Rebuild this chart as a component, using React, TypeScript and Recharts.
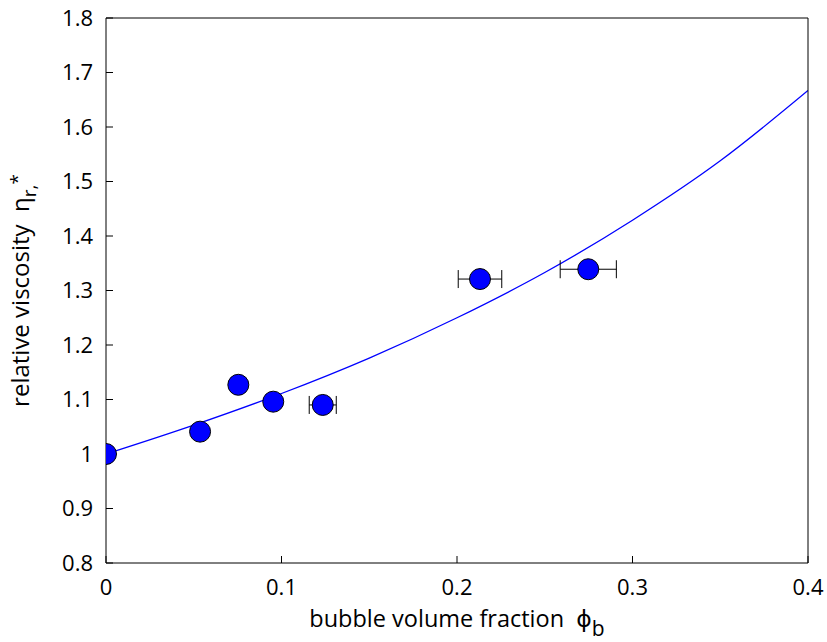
import { ComposedChart, Line, Scatter, XAxis, YAxis, ErrorBar, Label } from "recharts";

// measured points
const PHI = [0, 0.0536, 0.0754, 0.0953, 0.1235, 0.2131, 0.2748];
const ETA = [1.0, 1.041, 1.127, 1.096, 1.09, 1.321, 1.339];
const PHI_ERR = [0, 0, 0, 0, 0.0077, 0.0124, 0.016];

// fitted curve
const FIT_PHI = [0, 0.05, 0.1, 0.15, 0.2, 0.25, 0.3, 0.35, 0.4];
const FIT_ETA = [1.0, 1.053, 1.111, 1.176, 1.25, 1.333, 1.429, 1.538, 1.667];

const X_TICKS = [0, 0.1, 0.2, 0.3, 0.4];
const Y_TICKS = [0.8, 0.9, 1.0, 1.1, 1.2, 1.3, 1.4, 1.5, 1.6, 1.7, 1.8];

const FONT = "'Open Sans', 'DejaVu Sans', sans-serif";
const BLUE = "#0000ff";

const points = PHI.map((x, i) => ({ x, y: ETA[i], ex: PHI_ERR[i] }));
const plain = points.filter((p) => !p.ex);
const withErr = points.filter((p) => p.ex > 0);
const fit = FIT_PHI.map((x, i) => ({ x, y: FIT_ETA[i] }));

const fmt = (v: number) => String(Number(v.toFixed(1)));

const Dot = (props: any) => (
  <circle cx={props.cx} cy={props.cy} r={10.5} fill={BLUE} stroke="#000" strokeWidth={1} />
);

const XTitle = ({ viewBox }: any) => {
  const cx = viewBox.x + viewBox.width / 2;
  const y = viewBox.y + 64;
  return (
    <text x={cx} y={y} textAnchor="middle" fontSize={23.5} fill="#000" fontFamily={FONT}>
      bubble volume fraction{"\u00a0\u00a0"}ϕ
      <tspan dy={9} fontSize={21}>b</tspan>
    </text>
  );
};

const YTitle = ({ viewBox }: any) => {
  const x = 29;
  const cy = viewBox.y + viewBox.height / 2;
  return (
    <text
      x={x}
      y={cy}
      transform={`rotate(-90, ${x}, ${cy})`}
      textAnchor="middle"
      fontSize={24}
      fill="#000"
      fontFamily={FONT}
    >
      relative viscosity{"\u00a0\u00a0"}η
      <tspan dy={7} fontSize={19}>r,</tspan>
      <tspan dy={-12} fontSize={19}>*</tspan>
    </text>
  );
};

export default function App() {
  const tickStyle = { fontSize: 22, fill: "#000", fontFamily: FONT };
  return (
    <div style={{ position: "absolute", left: 0, top: 0, background: "#fff", fontFamily: FONT }}>
      <ComposedChart width={827} height={642} margin={{ top: 17, right: 18, bottom: 0, left: 0 }}>
        <XAxis
          dataKey="x"
          type="number"
          domain={[0, 0.4]}
          ticks={X_TICKS}
          tickFormatter={fmt}
          tick={tickStyle}
          tickSize={-7}
          tickMargin={23}
          height={79}
          stroke="#000"
          allowDataOverflow
        >
          <Label content={XTitle} />
        </XAxis>
        <XAxis
          xAxisId="top"
          orientation="top"
          type="number"
          domain={[0, 0.4]}
          ticks={X_TICKS}
          tick={false}
          tickSize={-7}
          height={1}
          stroke="#000"
          allowDataOverflow
        />
        <YAxis
          type="number"
          domain={[0.8, 1.8]}
          ticks={Y_TICKS}
          tickFormatter={fmt}
          tick={tickStyle}
          tickSize={-7}
          tickMargin={20}
          width={106}
          stroke="#000"
          allowDataOverflow
        >
          <Label content={YTitle} />
        </YAxis>
        <YAxis
          yAxisId="right"
          orientation="right"
          type="number"
          domain={[0.8, 1.8]}
          ticks={Y_TICKS}
          tick={false}
          tickSize={-7}
          width={1}
          stroke="#000"
          allowDataOverflow
        />
        <Line
          data={fit}
          dataKey="y"
          type="monotone"
          stroke={BLUE}
          strokeWidth={1.3}
          dot={false}
          activeDot={false}
          isAnimationActive={false}
        />
        <Scatter data={withErr} dataKey="y" shape={Dot} isAnimationActive={false}>
          <ErrorBar dataKey="ex" direction="x" width={9} stroke="#000" strokeWidth={1} />
        </Scatter>
        <Scatter data={plain} dataKey="y" shape={Dot} isAnimationActive={false} />
      </ComposedChart>
    </div>
  );
}
